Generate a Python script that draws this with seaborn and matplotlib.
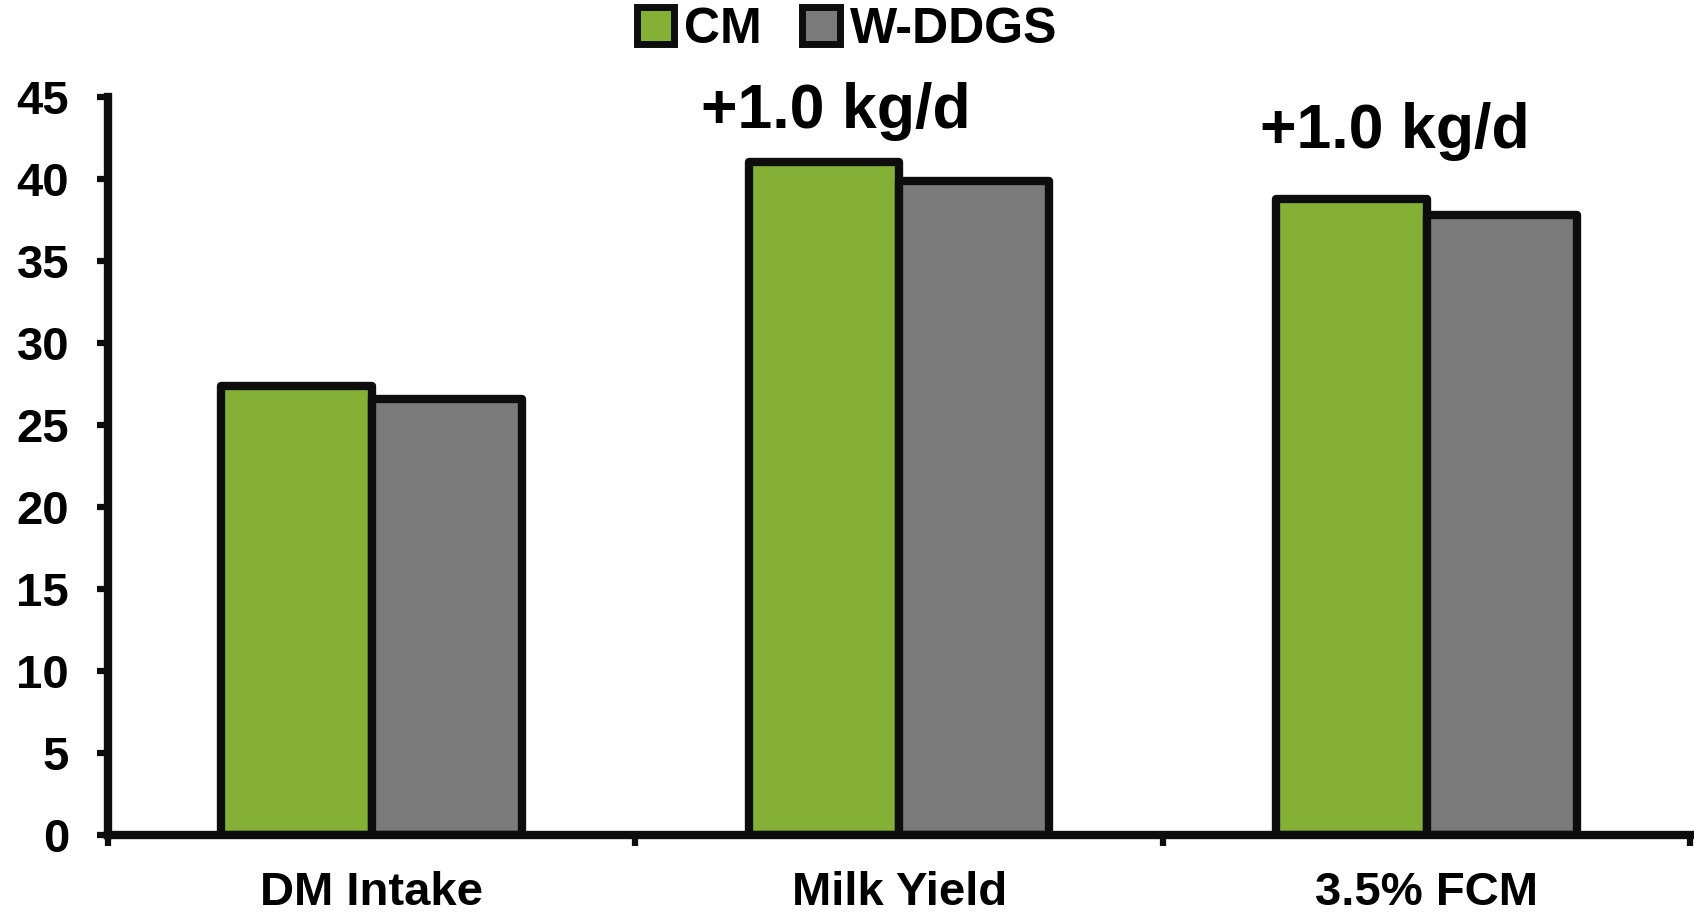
import pandas as pd
import matplotlib
matplotlib.use("Agg")
import matplotlib.pyplot as plt
import seaborn as sns
from matplotlib.patches import Patch

# Data
categories = ["DM Intake", "Milk Yield", "3.5% FCM"]
cm_values = [27.4, 41.0, 38.8]
wddgs_values = [26.6, 39.9, 37.8]
series_names = ["CM", "W-DDGS"]
notes = ["+1.0 kg/d", "+1.0 kg/d"]
note_pos = [(0.88, 44.1), (1.94, 42.9)]

green = "#84b135"
gray = "#7a7a7a"
edge = "#0d0d0d"

data = pd.DataFrame({
    "category": categories * 2,
    "value": cm_values + wddgs_values,
    "series": [series_names[0]] * 3 + [series_names[1]] * 3,
})

sns.set_style("white")
plt.rcParams["font.family"] = ["Liberation Sans", "DejaVu Sans"]
plt.rcParams["font.weight"] = "bold"
plt.rcParams["text.color"] = "black"
plt.rcParams["xtick.color"] = "black"
plt.rcParams["ytick.color"] = "black"

fig = plt.figure(figsize=(16.94, 9.14), dpi=100)
ax = fig.add_axes([0.0638, 0.0864, 0.934, 0.8076])

sns.barplot(data=data, x="category", y="value", hue="series",
            palette=[green, gray], saturation=1, width=0.57, edgecolor=edge,
            linewidth=6, legend=False, ax=ax)
for bar in ax.patches:
    bar.set_joinstyle("round")

ax.set_ylim(0, 45)
ax.set_xlim(-0.5, 2.5)
ax.set_yticks(range(0, 46, 5))
ax.tick_params(axis="y", labelsize=34, width=4.5, length=8, pad=20,
               left=True, color=edge, labelcolor="black")

# category boundaries as ticks, names centred between them
ax.set_xticks([-0.5, 0.5, 1.5, 2.5])
ax.set_xticklabels([])
ax.tick_params(axis="x", which="major", width=4.5, length=8,
               bottom=True, color=edge)
ax.set_xticks([0, 1, 2], minor=True)
ax.set_xticklabels(categories, minor=True, fontsize=34, fontweight="bold")
ax.tick_params(axis="x", which="minor", length=0, pad=26, labelcolor="black")
for lab in ax.get_yticklabels():
    lab.set_fontweight("bold")

ax.set_xlabel("")
ax.set_ylabel("")
sns.despine(ax=ax)
for side in ["left", "bottom"]:
    ax.spines[side].set_linewidth(6)
    ax.spines[side].set_color(edge)

for text, (x, y) in zip(notes, note_pos):
    ax.text(x, y, text, ha="center", va="center", fontsize=45,
            fontweight="bold", color="black", clip_on=False)

handles = [Patch(facecolor=green, edgecolor=edge, linewidth=5, joinstyle="round"),
           Patch(facecolor=gray, edgecolor=edge, linewidth=5, joinstyle="round")]
fig.legend(handles, series_names, loc="center", bbox_to_anchor=(0.5, 0.967),
           ncol=2, frameon=False, prop={"size": 36, "weight": "bold"},
           handlelength=0.75, handleheight=0.75, handletextpad=0.2,
           columnspacing=0.8, labelcolor="black")

fig.savefig("out.png", dpi=100)
